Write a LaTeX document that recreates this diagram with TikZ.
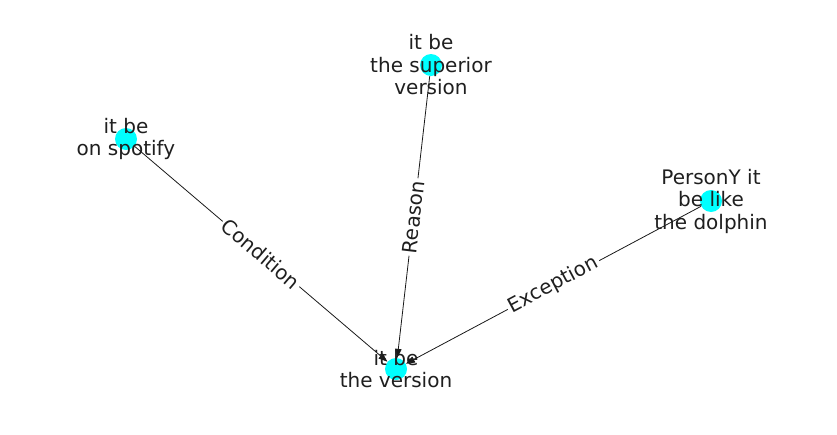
\documentclass[tikz,border=0pt]{standalone}
\usepackage{fontspec}
\setmainfont{DejaVu Sans}
\usetikzlibrary{arrows.meta,backgrounds}
\definecolor{nodecyan}{RGB}{0,255,255}
\begin{document}
\begin{tikzpicture}[x=1pt,y=-1pt,
  vtx/.style={circle,fill=nodecyan,minimum size=22pt,inner sep=0pt},
  lbl/.style={text=black!88,font=\fontsize{20}{22.5}\selectfont,align=center,inner sep=0pt},
  edge/.style={draw=black!90,line width=0.8pt,-{Triangle[length=9pt,width=6.5pt]}},
  elbl/.style={fill=white,inner sep=2.5pt,text=black!88,font=\fontsize{20}{22.5}\selectfont,sloped,midway}]
\useasboundingbox (0,0) rectangle (837,434);
\node[vtx] (v) at (396,369) {};
\node[vtx] (s) at (126,139) {};
\node[vtx] (u) at (431,65) {};
\node[vtx] (d) at (711,201) {};
\begin{scope}[on background layer]
\draw[edge] (s) -- node[elbl] (ec) {Condition} (v);
\draw[edge] (u) -- node[elbl] (er) {Reason} (v);
\draw[edge] (d) -- node[elbl] (ee) {Exception} (v);
\end{scope}
\node[lbl] (lv) at (v) {it be\\the version};
\node[lbl] (ls) at (s) {it be\\on spotify};
\node[lbl] (lu) at (u) {it be\\the superior\\version};
\node[lbl] (ld) at (d) {PersonY it\\be like\\the dolphin};
\end{tikzpicture}
\end{document}
